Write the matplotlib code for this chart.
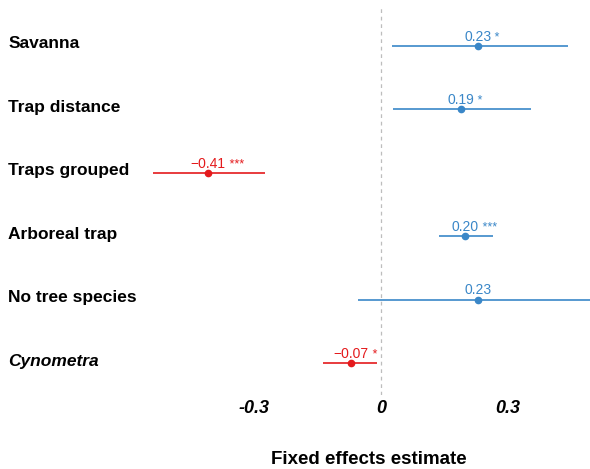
import matplotlib.pyplot as plt

plt.rcParams["font.family"] = ["Liberation Sans", "DejaVu Sans"]

# model terms, top to bottom
terms = ["Savanna", "Trap distance", "Traps grouped", "Arboreal trap", "No tree species", "Cynometra"]
estimates = [0.23, 0.19, -0.41, 0.20, 0.23, -0.07]
ci_low = [0.026, 0.028, -0.54, 0.139, -0.055, -0.137]
ci_high = [0.444, 0.357, -0.276, 0.266, 0.56, -0.01]
stars = ["*", "*", "***", "***", "", "*"]

blue = "#3a87c8"
red = "#e41a1c"

fig = plt.figure(figsize=(5.9, 4.69), dpi=100)
ax = fig.add_axes([0.249, 0.158, 0.751, 0.825])

n = len(terms)
ypos = [n - i for i in range(n)]

ax.axvline(0, color="#bdbdbd", linestyle=(0, (3, 3)), linewidth=0.9, zorder=0)

for y, est, lo, hi, st in zip(ypos, estimates, ci_low, ci_high, stars):
    col = blue if est > 0 else red
    ax.plot([lo, hi], [y, y], color=col, linewidth=1.2, solid_capstyle="butt")
    ax.plot(est, y, "o", color=col, markersize=4.5)
    num = ax.annotate(f"{est:.2f}".replace("-", "\u2212"), (est, y), xytext=(0, 3.8),
                      textcoords="offset points", ha="center", va="baseline",
                      color=col, fontsize=10)
    if st:
        ax.annotate(" " + st, xy=(1, 0), xycoords=num, ha="left", va="bottom",
                    color=col, fontsize=9)

ax.set_xlim(-0.555, 0.496)
ax.set_ylim(0.5, 6.6)

ax.set_xticks([-0.3, 0, 0.3])
ax.set_xticklabels(["-0.3", "0", "0.3"], fontsize=13, fontweight="bold", style="italic")
ax.set_yticks([])
for term, y in zip(terms, ypos):
    ax.annotate(term, xy=(0, y), xycoords=("figure fraction", "data"), xytext=(6, 1.5),
                textcoords="offset points", ha="left", va="center", fontsize=12.5,
                fontweight="bold", style="italic" if term == "Cynometra" else "normal")
ax.tick_params(axis="x", length=0, pad=4)

ax.set_xlabel("Fixed effects estimate", fontsize=13.5, fontweight="bold", labelpad=24)

for s in ax.spines.values():
    s.set_visible(False)

fig.savefig("out.png", dpi=100)
